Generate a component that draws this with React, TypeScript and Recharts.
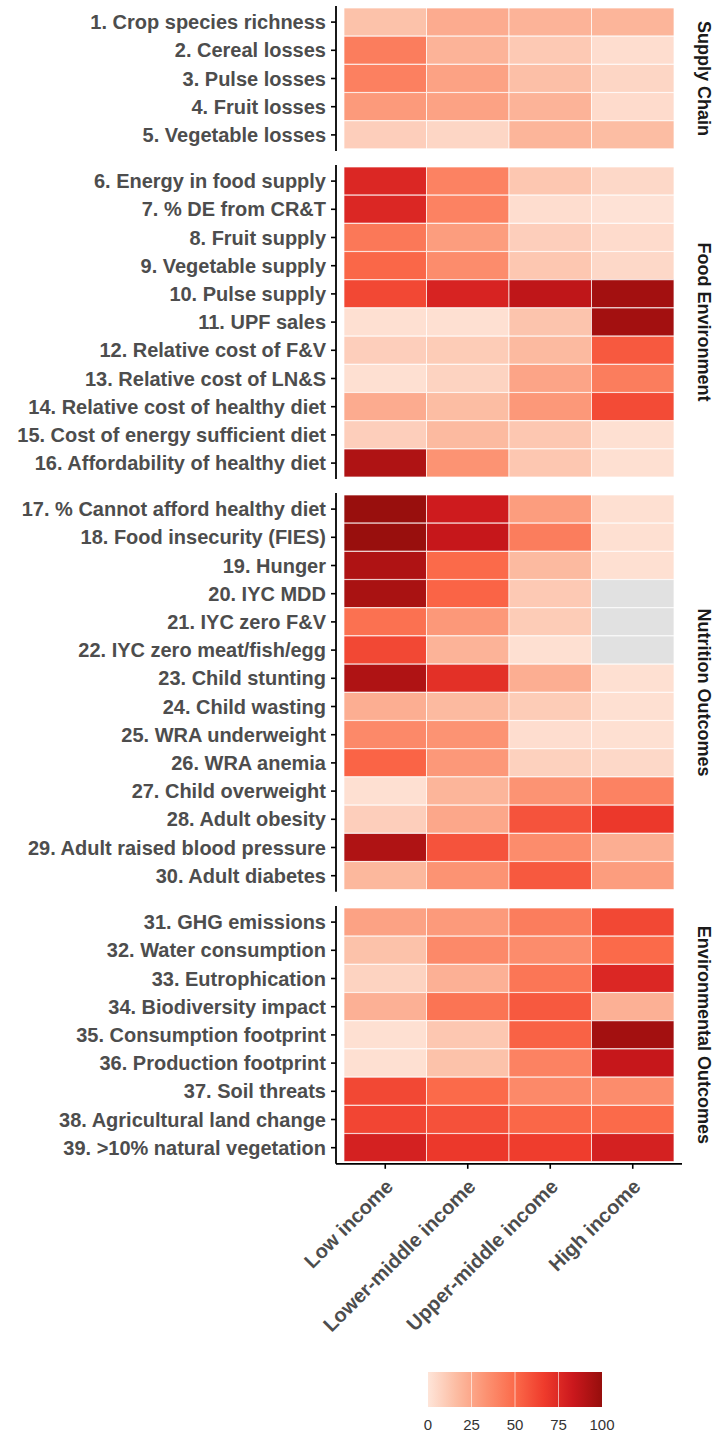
import React from 'react';
import { BarChart, Bar, XAxis, YAxis, Cell } from 'recharts';

// ---------------- DATA ----------------
const incomeGroups = ['Low income', 'Lower-middle income', 'Upper-middle income', 'High income'];

const facetNames = ['Supply Chain', 'Food Environment', 'Nutrition Outcomes', 'Environmental Outcomes'];

const supplyChainLabels = [
  '1. Crop species richness',
  '2. Cereal losses',
  '3. Pulse losses',
  '4. Fruit losses',
  '5. Vegetable losses',
];
const supplyChainValues: (number | null)[][] = [
  [14, 23, 20, 19],
  [42, 20, 11, 3],
  [41, 27, 15, 6],
  [30, 27, 20, 4],
  [9, 6, 19, 16],
];

const foodEnvLabels = [
  '6. Energy in food supply',
  '7. % DE from CR&T',
  '8. Fruit supply',
  '9. Vegetable supply',
  '10. Pulse supply',
  '11. UPF sales',
  '12. Relative cost of F&V',
  '13. Relative cost of LN&S',
  '14. Relative cost of healthy diet',
  '15. Cost of energy sufficient diet',
  '16. Affordability of healthy diet',
];
const foodEnvValues: (number | null)[][] = [
  [76, 40, 12, 5],
  [76, 40, 3, 1],
  [44, 29, 9, 4],
  [51, 36, 12, 5],
  [62, 78, 87, 96],
  [2, 2, 13, 96],
  [9, 10, 17, 56],
  [2, 7, 26, 42],
  [23, 16, 31, 61],
  [9, 17, 12, 2],
  [92, 33, 12, 2],
];

const nutritionLabels = [
  '17. % Cannot afford healthy diet',
  '18. Food insecurity (FIES)',
  '19. Hunger',
  '20. IYC MDD',
  '21. IYC zero F&V',
  '22. IYC zero meat/fish/egg',
  '23. Child stunting',
  '24. Child wasting',
  '25. WRA underweight',
  '26. WRA anemia',
  '27. Child overweight',
  '28. Adult obesity',
  '29. Adult raised blood pressure',
  '30. Adult diabetes',
];
const nutritionValues: (number | null)[][] = [
  [99, 82, 29, 2],
  [99, 85, 42, 2],
  [92, 50, 17, 2],
  [94, 52, 11, null],
  [47, 31, 10, null],
  [62, 20, 2, null],
  [92, 72, 22, 2],
  [22, 17, 10, 2],
  [37, 33, 3, 2],
  [52, 31, 8, 5],
  [2, 19, 33, 40],
  [9, 25, 58, 68],
  [92, 58, 36, 22],
  [18, 33, 56, 29],
];

const environmentLabels = [
  '31. GHG emissions',
  '32. Water consumption',
  '33. Eutrophication',
  '34. Biodiversity impact',
  '35. Consumption footprint',
  '36. Production footprint',
  '37. Soil threats',
  '38. Agricultural land change',
  '39. >10% natural vegetation',
];
const environmentValues: (number | null)[][] = [
  [27, 30, 42, 62],
  [14, 37, 36, 50],
  [7, 21, 45, 76],
  [21, 46, 56, 21],
  [2, 12, 53, 96],
  [2, 14, 40, 85],
  [62, 50, 37, 36],
  [63, 59, 51, 50],
  [79, 68, 66, 79],
];

const legendTicks = [0, 25, 50, 75, 100];

// ---------------- STYLE ----------------
const PALETTE = ['#FEE5D9', '#FCBBA1', '#FC9272', '#FB6A4A', '#EF3B2C', '#CB181D', '#960E0C'];
const NA_COLOR = '#e1e1e1';
const FONT = '"Liberation Sans", Arial, Helvetica, sans-serif';
const AXIS_TEXT = '#4d4d4d';

const ROW_H = 28.2;
const PAD_Y = 2;
const FIRST_TOP = 6;
const FACET_GAP = 14;
const CHART_W = 682;
const Y_AXIS_W = 336;
const X_AXIS_H = 200;

function hexToRgb(h: string) {
  const n = parseInt(h.slice(1), 16);
  return [(n >> 16) & 255, (n >> 8) & 255, n & 255];
}
function colorFor(v: number | null) {
  if (v === null || v === undefined) return NA_COLOR;
  const t = Math.max(0, Math.min(1, v / 100)) * (PALETTE.length - 1);
  const i = Math.min(PALETTE.length - 2, Math.floor(t));
  const f = t - i;
  const a = hexToRgb(PALETTE[i]);
  const b = hexToRgb(PALETTE[i + 1]);
  const c = a.map((x, k) => Math.round(x + (b[k] - x) * f));
  return `rgb(${c[0]},${c[1]},${c[2]})`;
}

const XTick = (props: any) => {
  const { x, y, payload } = props;
  const label = incomeGroups[Math.floor(payload.value)];
  return (
    <g transform={`translate(${x + 9},${y + 17})`}>
      <text
        textAnchor="end"
        transform="rotate(-45)"
        fill={AXIS_TEXT}
        fontSize={20}
        fontWeight={700}
        fontFamily={FONT}
      >
        {label}
      </text>
    </g>
  );
};

type PanelProps = { labels: string[]; values: (number | null)[][]; top: number; showX: boolean };

function Panel({ labels, values, top, showX }: PanelProps) {
  const data = labels.map((label, i) => ({ label, c0: 1, c1: 1, c2: 1, c3: 1, v: values[i] }));
  const h = labels.length * ROW_H + 2 * PAD_Y + (showX ? X_AXIS_H : 0);
  return (
    <div style={{ position: 'absolute', left: 0, top, width: CHART_W, height: h }}>
      <BarChart
        width={CHART_W}
        height={h}
        data={data}
        layout="vertical"
        margin={{ top: 0, right: 0, bottom: 0, left: 0 }}
        barCategoryGap={0}
        barGap={0}
        style={{ overflow: 'visible' }}
      >
        <XAxis
          type="number"
          domain={[0, 4]}
          hide={!showX}
          ticks={[0.5, 1.5, 2.5, 3.5]}
          interval={0}
          padding={{ left: 8, right: 8 }}
          height={X_AXIS_H}
          axisLine={{ stroke: '#000', strokeWidth: 1.8 }}
          tickLine={{ stroke: '#000', strokeWidth: 1.6 }}
          tickSize={5}
          tickMargin={2}
          tick={<XTick />}
        />
        <YAxis
          type="category"
          dataKey="label"
          width={Y_AXIS_W}
          padding={{ top: PAD_Y, bottom: PAD_Y }}
          interval={0}
          axisLine={{ stroke: '#000', strokeWidth: 1.8 }}
          tickLine={{ stroke: '#000', strokeWidth: 1.6 }}
          tickSize={5}
          tickMargin={5}
          tick={{ fill: AXIS_TEXT, fontSize: 20, fontWeight: 700, fontFamily: FONT }}
        />
        {incomeGroups.map((g, j) => (
          <Bar
            key={g}
            dataKey={`c${j}`}
            stackId="s"
            isAnimationActive={false}
            stroke="#ffffff"
            strokeWidth={0.7}
          >
            {data.map((d, i) => (
              <Cell key={i} fill={colorFor(d.v[j])} />
            ))}
          </Bar>
        ))}
      </BarChart>
    </div>
  );
}

export default function App() {
  const facets = [
    { labels: supplyChainLabels, values: supplyChainValues },
    { labels: foodEnvLabels, values: foodEnvValues },
    { labels: nutritionLabels, values: nutritionValues },
    { labels: environmentLabels, values: environmentValues },
  ];
  let acc = FIRST_TOP;
  const layout = facets.map((f, k) => {
    const top = acc;
    const ph = f.labels.length * ROW_H + 2 * PAD_Y;
    acc += ph + FACET_GAP;
    return { ...f, top, center: top + ph / 2, name: facetNames[k] };
  });

  const LEG_X0 = 428;
  const LEG_X1 = 602;
  const LEG_Y0 = 1372;
  const LEG_H = 35;
  const lx = (v: number) => LEG_X0 + ((LEG_X1 - LEG_X0) * v) / 100;
  const STRIP_X = 698;

  return (
    <div style={{ position: 'absolute', left: 0, top: 0, width: 713, height: 1437, background: '#fff' }}>
      {layout.map((f, k) => (
        <Panel key={k} labels={f.labels} values={f.values} top={f.top} showX={k === layout.length - 1} />
      ))}
      <svg
        width={713}
        height={1437}
        style={{ position: 'absolute', left: 0, top: 0, pointerEvents: 'none' }}
      >
        <defs>
          <linearGradient id="legendGrad" x1="0" y1="0" x2="1" y2="0">
            {PALETTE.map((c, i) => (
              <stop key={i} offset={`${(i / (PALETTE.length - 1)) * 100}%`} stopColor={c} />
            ))}
          </linearGradient>
        </defs>
        {layout.map((f, k) => (
          <text
            key={k}
            x={STRIP_X}
            y={f.center}
            transform={`rotate(90, ${STRIP_X}, ${f.center})`}
            textAnchor="middle"
            fontSize={18}
            fontWeight={700}
            fontFamily={FONT}
            fill="#1a1a1a"
          >
            {f.name}
          </text>
        ))}
        <rect x={LEG_X0} y={LEG_Y0} width={LEG_X1 - LEG_X0} height={LEG_H} fill="url(#legendGrad)" />
        {legendTicks.slice(1, -1).map((t) => (
          <line
            key={t}
            x1={lx(t)}
            x2={lx(t)}
            y1={LEG_Y0}
            y2={LEG_Y0 + LEG_H}
            stroke="#fff"
            strokeOpacity={0.6}
            strokeWidth={1}
          />
        ))}
        {legendTicks.map((t) => (
          <text
            key={t}
            x={lx(t)}
            y={1430}
            textAnchor="middle"
            fontSize={15}
            fontFamily={FONT}
            fill="#333"
          >
            {t}
          </text>
        ))}
      </svg>
    </div>
  );
}
